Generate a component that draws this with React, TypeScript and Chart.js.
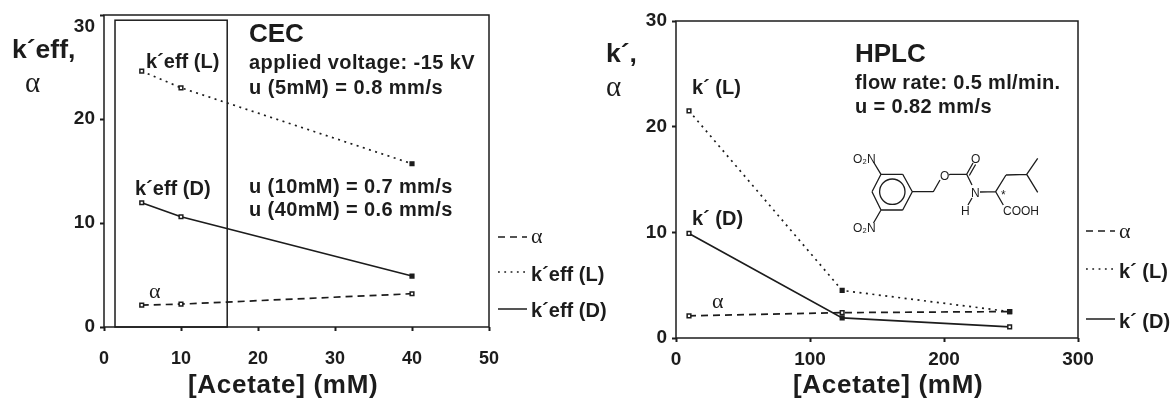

import React, { useEffect, useRef } from "react";
import { Chart, registerables } from "chart.js";

Chart.register(...registerables);

// ---- data ----
const cecX = [4.9, 10, 40];
const cecAlpha = [2.1, 2.2, 3.2];
const cecL = [24.6, 23.0, 15.7];
const cecD = [11.95, 10.6, 4.9];
const cecWindowX = [1.43, 16];
const cecWindowY = [0, 29.5];

const hplcX = [9.7, 124, 249];
const hplcAlpha = [2.1, 2.4, 2.5];
const hplcL = [21.5, 4.5, 2.5];
const hplcD = [9.9, 1.9, 1.05];

const cecXTicks = [0, 50, 10];
const hplcXTicks = [0, 300, 100];
const yTicks = [0, 30, 10];

const INK = "#1c1c1c";
const SANS = '"Liberation Sans", Arial, sans-serif';
const SERIF = '"Liberation Serif", serif';

type Label = [string, number, number, string, number?];

const b = (s: number) => `bold ${s}px ${SANS}`;
const g = (s: number) => `${s}px ${SERIF}`;

const cecLabels: Label[] = [
  ["k´eff,", 12, 58, b(26.5)],
  ["α", 25, 92, g(29)],
  ["k´eff (L)", 146, 68, b(20)],
  ["k´eff (D)", 135, 195, b(20)],
  ["α", 149, 298, g(22)],
  ["CEC", 249, 42, b(26)],
  ["applied voltage: -15 kV", 249, 69, b(20), 0.4],
  ["u (5mM) = 0.8 mm/s", 249, 94, b(20), 0.5],
  ["u (10mM) = 0.7 mm/s", 249, 193, b(20), 0.4],
  ["u (40mM) = 0.6 mm/s", 249, 216, b(20), 0.4],
  ["[Acetate] (mM)", 188, 393, b(26), 0.7],
  ["α", 531, 243, g(22)],
  ["k´eff (L)", 531, 281, b(20)],
  ["k´eff (D)", 531, 317, b(20)],
];

const hplcLabels: Label[] = [
  ["k´,", 606, 62, b(26.5)],
  ["α", 606, 96, g(29)],
  ["k´ (L)", 692, 94, b(20)],
  ["k´ (D)", 692, 225, b(20)],
  ["α", 712, 308, g(22)],
  ["HPLC", 855, 62, b(26)],
  ["flow rate: 0.5 ml/min.", 855, 89, b(20), 0.35],
  ["u = 0.82 mm/s", 855, 113, b(20), 0.4],
  ["[Acetate] (mM)", 793, 393, b(26), 0.7],
  ["α", 1119, 238, g(22)],
  ["k´ (L)", 1119, 278, b(20)],
  ["k´ (D)", 1119, 328, b(20)],
];

const cecLegend: [number[], number, number, number][] = [
  [[7, 5], 498, 527, 237],
  [[1.8, 4.5], 498, 527, 272],
  [[], 498, 527, 309],
];
const hplcLegend: [number[], number, number, number][] = [
  [[7, 5], 1086, 1115, 231],
  [[1.8, 4.5], 1086, 1115, 269],
  [[], 1086, 1115, 319],
];

// Molecule sketch, page pixels: [x1, y1, x2, y2]
const bonds: number[][] = [
  [881, 174.3, 902.7, 174.3], [902.7, 174.3, 912.3, 191.7], [912.3, 191.7, 902.7, 210],
  [902.7, 210, 881, 210], [881, 210, 872, 191.7], [872, 191.7, 881, 174.3],
  [873.5, 162, 881, 174.3], [881, 210, 873.5, 223],
  [912.3, 191.7, 933.3, 191.7], [933.3, 191.7, 940, 180], [949, 175, 950, 174.3], [950, 174.3, 966.7, 174.3],
  [966.7, 174.3, 973, 163], [969.3, 175.5, 975.6, 164.5], [966.7, 174.3, 972, 185],
  [980, 192, 995.7, 191.7], [995.7, 191.7, 1006, 175], [1006, 175, 1026.7, 174.3],
  [1026.7, 174.3, 1037.7, 158.3], [1026.7, 174.3, 1037.7, 192.3],
  [995.7, 191.7, 1003.3, 205], [972, 198, 968, 205],
];
const chemLabels: [string, number, number][] = [
  ["O₂N", 853, 163], ["O₂N", 853, 232], ["O", 940, 180], ["O", 971, 163], ["N", 971, 197],
  ["H", 961, 215], ["COOH", 1003, 215], ["*", 1001, 199],
];

const frameAndText = (labels: Label[], legend: [number[], number, number, number][], extra?: (c: any) => void) => ({
  id: "frameAndText",
  afterDraw(chart: any) {
    const { ctx, chartArea: a } = chart;
    ctx.save();
    ctx.strokeStyle = INK;
    ctx.lineWidth = 1.5;
    ctx.setLineDash([]);
    ctx.strokeRect(a.left, a.top, a.right - a.left, a.bottom - a.top);
    for (const [dash, x1, x2, y] of legend) {
      ctx.setLineDash(dash);
      ctx.lineWidth = 1.5;
      ctx.beginPath();
      ctx.moveTo(x1, y);
      ctx.lineTo(x2, y);
      ctx.stroke();
    }
    ctx.setLineDash([]);
    ctx.fillStyle = INK;
    ctx.textBaseline = "alphabetic";
    ctx.textAlign = "left";
    for (const [t, x, y, font, sp] of labels) {
      ctx.font = font;
      (ctx as any).letterSpacing = `${sp ?? 0}px`;
      ctx.fillText(t, x, y);
    }
    (ctx as any).letterSpacing = "0px";
    if (extra) extra(chart);
    ctx.restore();
  },
});

const drawWindow = (chart: any) => {
  const { ctx, scales } = chart;
  const l = scales.x.getPixelForValue(cecWindowX[0]);
  const r = scales.x.getPixelForValue(cecWindowX[1]);
  const t = scales.y.getPixelForValue(cecWindowY[1]);
  const bt = scales.y.getPixelForValue(cecWindowY[0]);
  ctx.lineWidth = 1.5;
  ctx.strokeRect(l, t, r - l, bt - t);
};

const drawMolecule = (chart: any) => {
  const { ctx } = chart;
  ctx.lineWidth = 1.3;
  ctx.beginPath();
  for (const [x1, y1, x2, y2] of bonds) {
    ctx.moveTo(x1, y1);
    ctx.lineTo(x2, y2);
  }
  ctx.stroke();
  ctx.beginPath();
  ctx.arc(892.3, 191.7, 12.7, 0, Math.PI * 2);
  ctx.stroke();
  ctx.font = `12px ${SANS}`;
  for (const [t, x, y] of chemLabels) ctx.fillText(t, x, y);
};

function makeChart(
  canvas: HTMLCanvasElement,
  xs: number[], alpha: number[], L: number[], D: number[],
  names: string[], filled: boolean[][],
  box: { left: number; right: number; top: number; bottom: number },
  xTicks: number[], tickSize: number, xPad: number,
  yTickText: (v: number) => any,
  plugin: any
) {
  const fillsOf = (f: boolean[]) => f.map((v) => (v ? INK : "#ffffff"));
  const pts = (ys: number[]) => xs.map((x, i) => ({ x, y: ys[i] }));
  const ds = (label: string, ys: number[], dash: number[], f: boolean[]) => ({
    label,
    data: pts(ys),
    borderColor: INK,
    borderWidth: 1.7,
    borderDash: dash,
    pointStyle: "rect",
    pointRadius: 2.6,
    pointBorderWidth: 1.5,
    pointBorderColor: INK,
    pointBackgroundColor: fillsOf(f),
    tension: 0,
    fill: false,
  });
  return new Chart(canvas, {
    type: "line",
    data: {
      datasets: [
        ds(names[0], alpha, [7, 5], filled[0]),
        ds(names[1], L, [2, 4.5], filled[1]),
        ds(names[2], D, [], filled[2]),
      ],
    },
    options: {
      responsive: false,
      animation: false,
      layout: { padding: { top: box.top, right: 1171 - box.right, bottom: 0, left: 0 } },
      plugins: { legend: { display: false }, title: { display: false }, tooltip: { enabled: false } },
      scales: {
        x: {
          type: "linear",
          min: xTicks[0],
          max: xTicks[1],
          afterFit: (s: any) => { s.height = 400 - box.bottom; },
          border: { display: false },
          grid: { drawOnChartArea: false, drawTicks: true, tickLength: 4, tickWidth: 2, tickColor: INK },
          ticks: { stepSize: xTicks[2], color: INK, padding: xPad, maxRotation: 0, font: { family: SANS, size: tickSize, weight: "bold" } },
        },
        y: {
          type: "linear",
          min: yTicks[0],
          max: yTicks[1],
          afterFit: (s: any) => { s.width = box.left; s.paddingTop = 0; s.paddingBottom = 0; },
          border: { display: false },
          grid: { drawOnChartArea: false, drawTicks: true, tickLength: 4, tickWidth: 2, tickColor: INK },
          ticks: { stepSize: yTicks[2], color: INK, padding: 5, callback: yTickText, font: { family: SANS, size: 19, weight: "bold" } },
        },
      },
    },
    plugins: [plugin],
  } as any);
}

export default function App() {
  const a = useRef<HTMLCanvasElement>(null);
  const c = useRef<HTMLCanvasElement>(null);
  useEffect(() => {
    const one = makeChart(
      a.current!, cecX, cecAlpha, cecL, cecD,
      ["α", "k´eff (L)", "k´eff (D)"],
      [[false, false, false], [false, false, true], [false, false, true]],
      { left: 104, right: 489, top: 15, bottom: 327 },
      cecXTicks, 18, 17,
      (v: number) => (v === 30 ? ["", "30"] : String(v)),
      frameAndText(cecLabels, cecLegend, drawWindow)
    );
    const two = makeChart(
      c.current!, hplcX, hplcAlpha, hplcL, hplcD,
      ["α", "k´ (L)", "k´ (D)"],
      [[false, false, true], [false, true, false], [false, true, false]],
      { left: 676, right: 1078, top: 21, bottom: 338 },
      hplcXTicks, 19, 6,
      (v: number) => String(v),
      frameAndText(hplcLabels, hplcLegend, drawMolecule)
    );
    return () => {
      one.destroy();
      two.destroy();
    };
  }, []);
  const st: React.CSSProperties = { position: "absolute", left: 0, top: 0, width: 1171, height: 400, display: "block" };
  return (
    <div style={{ position: "fixed", left: 0, top: 0, width: 1171, height: 400, background: "#fff", overflow: "hidden" }}>
      <canvas ref={a} width={1171} height={400} style={st} />
      <canvas ref={c} width={1171} height={400} style={st} />
    </div>
  );
}
